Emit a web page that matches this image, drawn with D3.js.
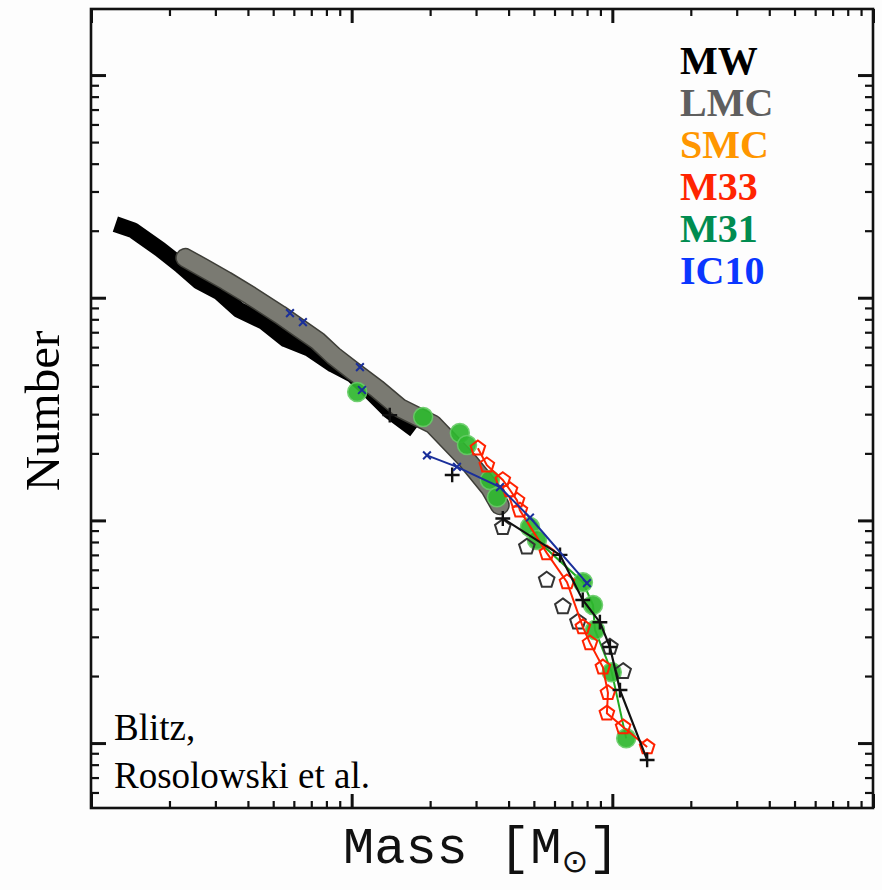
<!DOCTYPE html>
<html><head><meta charset="utf-8">
<script src="https://cdn.jsdelivr.net/npm/d3@7"></script>
<style>body{margin:0;background:#fff}</style>
</head><body>
<svg id="chart" width="882" height="890"></svg>
<script>
// ---------- data ----------
// Milky Way: dense cumulative band
const mwMass = [1.24e4, 1.45e4, 1.84e4, 2.2e4, 2.6e4, 3.1e4, 3.7e4, 4.6e4, 5.6e4, 6.9e4, 8.5e4, 1.01e5, 1.15e5, 1.40e5, 1.75e5];
const mwN    = [214, 201, 165, 140, 118, 106, 88, 78, 65, 59, 50, 45, 39, 31, 25.5];
// Milky Way high-mass tail (line with + markers)
const mwTailMass = [1.40e5, 2.43e5, 3.8e5, 6.3e5, 7.7e5, 8.96e5, 9.79e5, 1.07e6, 1.36e6];
const mwTailN    = [29.7, 16.0, 10.2, 7.0, 4.39, 3.49, 2.70, 1.73, 0.84];
// LMC: gray band
const lmcMass = [2.3e4, 2.7e4, 3.3e4, 4.1e4, 5.3e4, 6.3e4, 7.4e4, 8.5e4, 1.01e5, 1.25e5, 1.53e5, 2.05e5, 2.77e5, 3.39e5, 3.7e5];
const lmcN    = [151, 136, 119, 102, 84, 73, 64, 55, 47, 39, 32, 27, 18.7, 14, 11.7];
// LMC high-mass open pentagons
const lmcOpenMass = [3.8e5, 4.7e5, 5.6e5, 6.46e5, 7.38e5, 9.79e5, 1.10e6];
const lmcOpenN    = [9.3, 7.6, 5.4, 4.1, 3.5, 2.7, 2.1];
// M33: red open pentagons joined by a line
const m33Mass = [3.05e5, 3.3e5, 3.8e5, 4.05e5, 4.31e5, 4.42e5, 5.61e5, 6.7e5, 7.71e5, 8.21e5, 9.2e5, 9.62e5, 9.53e5, 1.10e6, 1.36e6];
const m33N    = [21.1, 17.7, 15.2, 13.7, 12.3, 11.1, 7.13, 5.28, 3.32, 2.81, 2.19, 1.68, 1.36, 1.18, 0.96];
// M31: green filled circles
const m31Mass = [1.05e5, 1.88e5, 2.60e5, 2.77e5, 3.39e5, 3.61e5, 4.83e5, 5.14e5, 7.71e5, 8.43e5, 8.58e5, 9.95e5, 1.13e6];
const m31N    = [37.7, 29.1, 24.7, 21.8, 15.2, 12.7, 9.33, 8.16, 5.28, 4.17, 3.22, 2.08, 1.05];
// IC10: blue crosses, line over the high-mass part
const ic10Mass = [5.8e4, 6.5e4, 1.076e5, 1.095e5, 1.945e5, 2.535e5, 3.706e5, 4.83e5, 7.99e5];
const ic10N    = [85.3, 77.7, 48.8, 38.5, 19.6, 17.4, 14.1, 10.3, 5.23];
// legend & annotation
const legendLabels = ["MW", "LMC", "SMC", "M33", "M31", "IC10"];
const legendColors = ["#000000", "#5f5f5f", "#ff9600", "#ff2400", "#008c50", "#0a36ff"];
const creditLines  = ["Blitz,", "Rosolowski et al."];
const xDecades = [4, 5, 6, 7];
const yDecades = [-1, 0, 1, 2, 3];

// ---------- layout ----------
const svg = d3.select("#chart");
const L = 91, R = 873, T = 9, B = 808;
const x = d3.scaleLog().domain([1e4, 1e7]).range([L, R]);
const y = d3.scaleLog().domain([0.511, 1980]).range([B, T]);

svg.append("rect").attr("width", 882).attr("height", 890).attr("fill", "#fdfdfd");

const zip = (a, b) => a.map((v, i) => [v, b[i]]);
const line = d3.line().x(d => x(d[0])).y(d => y(d[1]));

// ---------- ticks (inward, mirrored) ----------
function tickSets(decades, dom) {
  const major = [], minor = [];
  decades.forEach(k => {
    for (let d = 1; d <= 9; d++) {
      const v = d * Math.pow(10, k);
      if (v >= dom[0] * 0.999 && v <= dom[1] * 1.001) (d === 1 ? major : minor).push(v);
    }
  });
  return { major, minor };
}
const xt = tickSets(xDecades, x.domain());
const yt = tickSets(yDecades, y.domain());
function addAxis(axisFn, scale, vals, len, sw, tx, ty) {
  const g = svg.append("g").attr("transform", `translate(${tx},${ty})`)
    .call(axisFn(scale).tickValues(vals).tickSizeInner(-len).tickSizeOuter(0).tickFormat(""));
  g.select(".domain").remove();
  g.selectAll(".tick line").attr("stroke", "#111").attr("stroke-width", sw);
}
addAxis(d3.axisBottom, x, xt.major, 14, 3, 0, B);
addAxis(d3.axisBottom, x, xt.minor, 7, 2.2, 0, B);
addAxis(d3.axisTop, x, xt.major, 14, 3, 0, T);
addAxis(d3.axisTop, x, xt.minor, 7, 2.2, 0, T);
addAxis(d3.axisLeft, y, yt.major, 15, 3, L, 0);
addAxis(d3.axisLeft, y, yt.minor, 8, 2.2, L, 0);
addAxis(d3.axisRight, y, yt.major, 15, 3, R, 0);
addAxis(d3.axisRight, y, yt.minor, 8, 2.2, R, 0);

svg.append("rect").attr("x", L).attr("y", T).attr("width", R - L).attr("height", B - T)
  .attr("fill", "none").attr("stroke", "#111").attr("stroke-width", 2.6);

// ---------- symbols ----------
const pentagon = { draw(ctx, size) {
  const r = Math.sqrt(size / 2.378);
  for (let i = 0; i < 5; i++) {
    const a = -Math.PI / 2 + i * 2 * Math.PI / 5;
    i ? ctx.lineTo(r * Math.cos(a), r * Math.sin(a)) : ctx.moveTo(r * Math.cos(a), r * Math.sin(a));
  }
  ctx.closePath();
}};
const plus = { draw(ctx, size) {
  const r = Math.sqrt(size) / 2;
  ctx.moveTo(-r, 0); ctx.lineTo(r, 0); ctx.moveTo(0, -r); ctx.lineTo(0, r);
}};
const cross = { draw(ctx, size) {
  const r = Math.sqrt(size) / 2;
  ctx.moveTo(-r, -r); ctx.lineTo(r, r); ctx.moveTo(-r, r); ctx.lineTo(r, -r);
}};

const data = svg.append("g");

// MW band
data.append("path").attr("d", line(zip(mwMass, mwN)))
  .attr("fill", "none").attr("stroke", "#000").attr("stroke-width", 16)
  .attr("stroke-linejoin", "round").attr("stroke-linecap", "butt");

// LMC band
const lmcD = line(zip(lmcMass, lmcN));
data.append("path").attr("d", lmcD).attr("fill", "none").attr("stroke", "#3e3e38")
  .attr("stroke-width", 20).attr("stroke-linejoin", "round").attr("stroke-linecap", "round");
data.append("path").attr("d", lmcD).attr("fill", "none").attr("stroke", "#7a7a72")
  .attr("stroke-width", 17).attr("stroke-linejoin", "round").attr("stroke-linecap", "round");

// M31 circles + thin line
data.append("path").attr("d", line(zip(m31Mass, m31N).slice(6)))
  .attr("fill", "none").attr("stroke", "#22aa22").attr("stroke-width", 2);
data.selectAll(".m31").data(zip(m31Mass, m31N)).join("circle")
  .attr("cx", d => x(d[0])).attr("cy", d => y(d[1])).attr("r", 9.5)
  .attr("fill", "#2fb82f").attr("stroke", "#66cc66").attr("stroke-width", 1.5).attr("opacity", 0.92);

// LMC open pentagons
data.selectAll(".lmcp").data(zip(lmcOpenMass, lmcOpenN)).join("path")
  .attr("transform", d => `translate(${x(d[0])},${y(d[1])})`)
  .attr("d", d3.symbol().type(pentagon).size(160))
  .attr("fill", "none").attr("stroke", "#333").attr("stroke-width", 2);

// M33 red line + pentagons
data.append("path").attr("d", line(zip(m33Mass, m33N)))
  .attr("fill", "none").attr("stroke", "#ff2200").attr("stroke-width", 2);
data.selectAll(".m33").data(zip(m33Mass, m33N)).join("path")
  .attr("transform", d => `translate(${x(d[0])},${y(d[1])})`)
  .attr("d", d3.symbol().type(pentagon).size(140))
  .attr("fill", "none").attr("stroke", "#ff2200").attr("stroke-width", 2);

// MW tail: black line with + markers
data.append("path").attr("d", line(zip(mwTailMass, mwTailN).slice(2)))
  .attr("fill", "none").attr("stroke", "#111").attr("stroke-width", 2.2);
data.selectAll(".mwt").data(zip(mwTailMass, mwTailN)).join("path")
  .attr("transform", d => `translate(${x(d[0])},${y(d[1])})`)
  .attr("d", d3.symbol().type(plus).size(220))
  .attr("fill", "none").attr("stroke", "#111").attr("stroke-width", 2.4);

// IC10: blue line and crosses
data.append("path").attr("d", line(zip(ic10Mass, ic10N).slice(4)))
  .attr("fill", "none").attr("stroke", "#1a2f9a").attr("stroke-width", 2);
data.selectAll(".ic").data(zip(ic10Mass, ic10N)).join("path")
  .attr("transform", d => `translate(${x(d[0])},${y(d[1])})`)
  .attr("d", d3.symbol().type(cross).size(60))
  .attr("fill", "none").attr("stroke", "#1a2f9a").attr("stroke-width", 2);

// ---------- texts ----------
svg.append("g").selectAll("text").data(legendLabels).join("text")
  .attr("x", 680).attr("y", (d, i) => 74 + i * 42)
  .attr("fill", (d, i) => legendColors[i])
  .attr("font-family", "Liberation Serif, Times New Roman, serif")
  .attr("font-weight", "bold").attr("font-size", 40).text(d => d);

svg.append("g").selectAll("text").data(creditLines).join("text")
  .attr("x", 114).attr("y", (d, i) => 740 + i * 48)
  .attr("font-family", "Liberation Serif, Times New Roman, serif")
  .attr("font-size", 37).attr("fill", "#000").text(d => d);

svg.append("text").attr("transform", "translate(59,411) rotate(-90)")
  .attr("text-anchor", "middle").attr("font-family", "Liberation Serif, Times New Roman, serif")
  .attr("font-size", 49).attr("fill", "#000").text("Number");

const xl = svg.append("text").attr("x", 343).attr("y", 863)
  .attr("font-family", "Liberation Mono, Courier New, monospace").attr("font-size", 52).attr("fill", "#111");
xl.append("tspan").text("Mass [M");
xl.append("tspan").attr("font-size", 32).attr("dy", 9).attr("font-family", "DejaVu Sans, sans-serif").text("⊙");
xl.append("tspan").attr("dy", -9).text("]");
</script>
</body></html>
